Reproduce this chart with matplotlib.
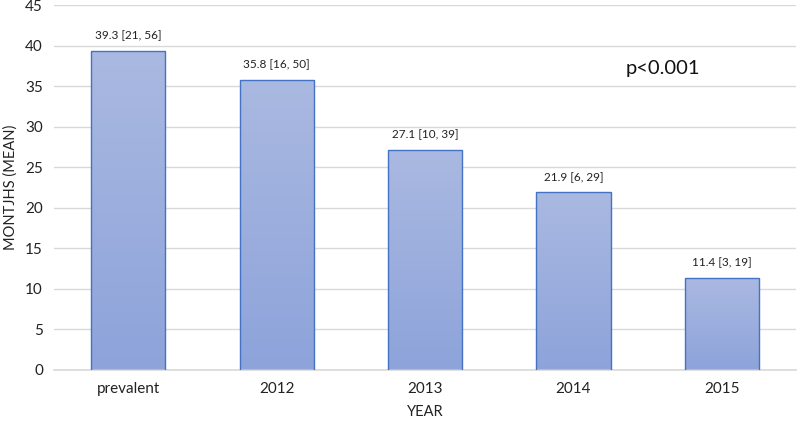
import matplotlib
matplotlib.use("Agg")
import matplotlib.pyplot as plt
import numpy as np
from matplotlib.colors import LinearSegmentedColormap

categories = ["prevalent", "2012", "2013", "2014", "2015"]
means = [39.3, 35.8, 27.1, 21.9, 11.4]
labels = ["39.3 [21, 56]", "35.8 [16, 50]", "27.1 [10, 39]", "21.9 [6, 29]", "11.4 [3, 19]"]

plt.rcParams['font.family'] = ['Lato', 'DejaVu Sans']

fig = plt.figure(figsize=(8, 4.24), dpi=100)
ax = fig.add_axes([0.0675, 0.1274, 0.9275, 0.8606])

x = np.arange(len(categories))
width = 0.5
bars = ax.bar(x, means, width=width, color='none', edgecolor='#4472c4', linewidth=1.0, zorder=3)

cmap = LinearSegmentedColormap.from_list('g', ['#8da3da', '#aab9e1'])
grad = np.linspace(0, 1, 256).reshape(-1, 1)
for b in bars:
    bx, by = b.get_x(), b.get_y()
    w, h = b.get_width(), b.get_height()
    im = ax.imshow(grad, cmap=cmap, extent=[bx, bx + w, by, by + h], origin='lower',
                   aspect='auto', zorder=2)
    im.set_clip_path(b)

for xi, m, lab in zip(x, means, labels):
    ax.text(xi, m + 1.2, lab, ha='center', va='bottom', fontsize=8.5, color='#222222')

ax.set_xlim(-0.5, len(categories) - 0.5)
ax.set_ylim(0, 45)
ax.set_yticks(np.arange(0, 46, 5))
ax.set_xticks(x)
ax.set_xticklabels(categories)
ax.tick_params(axis='both', length=0, labelsize=11, colors='#222222')
ax.tick_params(axis='x', pad=9)
ax.tick_params(axis='y', pad=8)
ax.grid(axis='y', color='#d9d9d9', linewidth=1.0, zorder=0)
ax.set_axisbelow(True)
for s in ['top', 'right', 'left']:
    ax.spines[s].set_visible(False)
ax.spines['bottom'].set_color('#d9d9d9')
ax.spines['bottom'].set_linewidth(1.2)

ax.set_xlabel('YEAR', fontsize=10.5, color='#222222', labelpad=6)
ax.set_ylabel('MONTJHS (MEAN)', fontsize=10.5, color='#222222')
ax.yaxis.set_label_coords(-0.0485, 0.5)

ax.text(3.6, 37.2, 'p<0.001', ha='center', va='center', fontsize=14.5, color='#111111')

fig.savefig('out.png', dpi=100)
